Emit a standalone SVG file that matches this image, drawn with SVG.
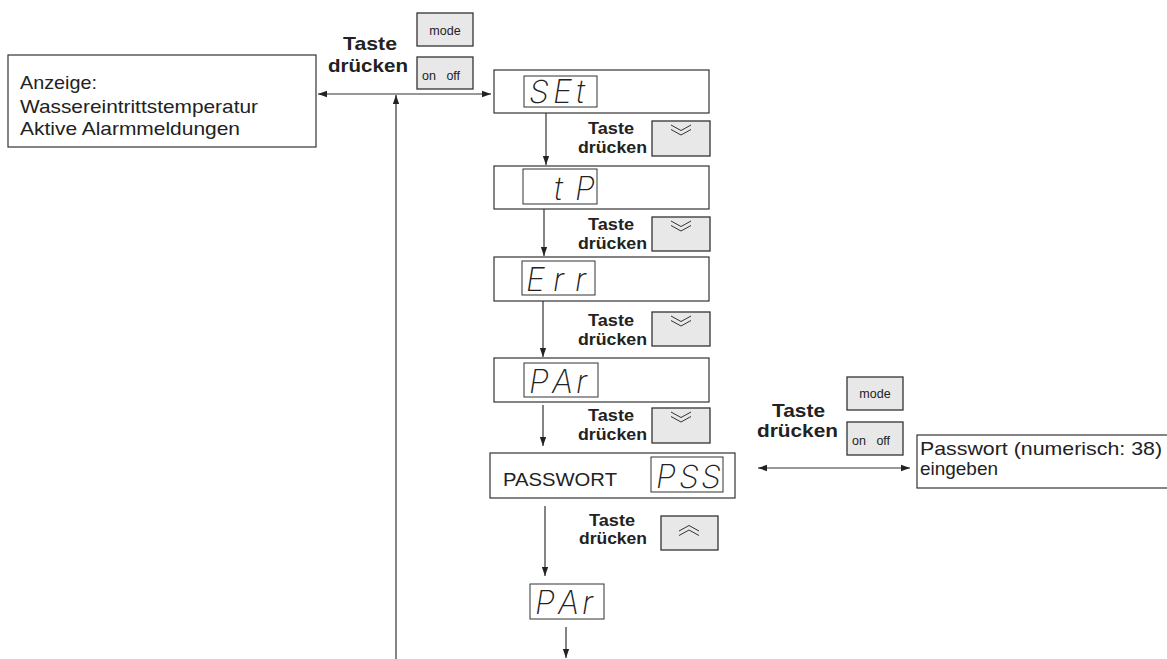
<svg xmlns="http://www.w3.org/2000/svg" width="1167" height="659" viewBox="0 0 1167 659">
<style>
.box{fill:#fff;stroke:#333;stroke-width:1.2}
.disp{fill:none;stroke:#333;stroke-width:1}
.btn{fill:#e8e8e8;stroke:#333;stroke-width:1.3}
.lbl{font-family:"Liberation Sans",Arial,sans-serif;font-size:19px;fill:#222}
.bold{font-family:"Liberation Sans",Arial,sans-serif;font-weight:bold;fill:#222}
.big{font-size:19px}
.sm{font-size:16px}
.key{font-family:"Liberation Sans",Arial,sans-serif;font-size:12.5px;fill:#222}
.seg{font-family:Inter,"Liberation Sans",sans-serif;font-style:italic;font-weight:200;font-size:32px;fill:#222}
.chev{fill:none;stroke:#333;stroke-width:1}
.con{fill:none;stroke:#333;stroke-width:1.2}
</style>
<defs>
<marker id="ah" viewBox="0 0 10 10" refX="10" refY="5" markerWidth="9" markerHeight="9" markerUnits="userSpaceOnUse" orient="auto-start-reverse">
<path d="M0,1.5 L10,5 L0,8.5 z" fill="#222"/>
</marker>
</defs>
<rect width="1167" height="659" fill="#fff"/>

<g id="connectors">
<line class="con" x1="318" y1="94" x2="491" y2="94" marker-start="url(#ah)" marker-end="url(#ah)"/>
<line class="con" x1="396" y1="659" x2="396" y2="95" marker-end="url(#ah)"/>
<line class="con" x1="546" y1="113" x2="546" y2="165" marker-end="url(#ah)"/>
<line class="con" x1="544" y1="209" x2="544" y2="256" marker-end="url(#ah)"/>
<line class="con" x1="543" y1="301" x2="543" y2="357" marker-end="url(#ah)"/>
<line class="con" x1="543" y1="405" x2="543" y2="446" marker-end="url(#ah)"/>
<line class="con" x1="545" y1="506" x2="545" y2="576" marker-end="url(#ah)"/>
<line class="con" x1="566" y1="627" x2="566" y2="658" marker-end="url(#ah)"/>
<line class="con" x1="758" y1="468" x2="910" y2="468" marker-start="url(#ah)" marker-end="url(#ah)"/>
</g>

<g id="anzeige">
<rect class="box" x="8" y="55" width="308" height="92"/>
<text class="lbl" x="20" y="89" textLength="77" lengthAdjust="spacingAndGlyphs">Anzeige:</text>
<text class="lbl" x="20" y="113" textLength="238" lengthAdjust="spacingAndGlyphs">Wassereintrittstemperatur</text>
<text class="lbl" x="20" y="135" textLength="220" lengthAdjust="spacingAndGlyphs">Aktive Alarmmeldungen</text>
</g>

<g id="taste-top">
<text class="bold big" x="343" y="50" textLength="54" lengthAdjust="spacingAndGlyphs">Taste</text>
<text class="bold big" x="328" y="72" textLength="80" lengthAdjust="spacingAndGlyphs">drücken</text>
<rect class="btn" x="417" y="13" width="56" height="33"/>
<text class="key" x="445" y="35" text-anchor="middle">mode</text>
<rect class="btn" x="417" y="57" width="56" height="32"/>
<text class="key" x="422" y="80" word-spacing="7">on off</text>
</g>

<g id="set">
<rect class="box" x="494" y="70" width="215" height="43"/>
<rect class="disp" x="524" y="76" width="73" height="31"/>
<text class="seg" x="529 553 576" y="103">SEt</text>
</g>

<g id="taste-1">
<text class="bold sm" x="588" y="134" textLength="46" lengthAdjust="spacingAndGlyphs">Taste</text>
<text class="bold sm" x="578" y="153" textLength="69" lengthAdjust="spacingAndGlyphs">drücken</text>
<rect class="btn" x="652" y="121" width="58" height="35"/>
<path class="chev" d="M671,125 L681,130.5 L691,125 M671,129.5 L681,135 L691,129.5"/>
</g>

<g id="tp">
<rect class="box" x="494" y="166" width="215" height="43"/>
<rect class="disp" x="523" y="169" width="74" height="35"/>
<text class="seg" x="554 575" y="200">tP</text>
</g>

<g id="taste-2">
<text class="bold sm" x="588" y="230" textLength="46" lengthAdjust="spacingAndGlyphs">Taste</text>
<text class="bold sm" x="578" y="249" textLength="69" lengthAdjust="spacingAndGlyphs">drücken</text>
<rect class="btn" x="652" y="217" width="58" height="34"/>
<path class="chev" d="M671,221 L681,226.5 L691,221 M671,225.5 L681,231 L691,225.5"/>
</g>

<g id="err">
<rect class="box" x="494" y="257" width="215" height="44"/>
<rect class="disp" x="522" y="261" width="73" height="34"/>
<text class="seg" x="526 553 575" y="291">Err</text>
</g>

<g id="taste-3">
<text class="bold sm" x="588" y="326" textLength="46" lengthAdjust="spacingAndGlyphs">Taste</text>
<text class="bold sm" x="578" y="345" textLength="69" lengthAdjust="spacingAndGlyphs">drücken</text>
<rect class="btn" x="652" y="312" width="58" height="34"/>
<path class="chev" d="M671,316 L681,321.5 L691,316 M671,320.5 L681,326 L691,320.5"/>
</g>

<g id="par">
<rect class="box" x="494" y="358" width="215" height="44"/>
<rect class="disp" x="524" y="363" width="74" height="34"/>
<text class="seg" x="529 552 576" y="393">PAr</text>
</g>

<g id="taste-4">
<text class="bold sm" x="588" y="421" textLength="46" lengthAdjust="spacingAndGlyphs">Taste</text>
<text class="bold sm" x="578" y="440" textLength="69" lengthAdjust="spacingAndGlyphs">drücken</text>
<rect class="btn" x="652" y="408" width="58" height="35"/>
<path class="chev" d="M671,412 L681,417.5 L691,412 M671,416.5 L681,422 L691,416.5"/>
</g>

<g id="passwort">
<rect class="box" x="490" y="453" width="245" height="45"/>
<text class="lbl" x="503" y="486" textLength="114" lengthAdjust="spacingAndGlyphs">PASSWORT</text>
<rect class="disp" x="651" y="457" width="72" height="35"/>
<text class="seg" x="656 679 701" y="488">PSS</text>
</g>

<g id="taste-right">
<text class="bold big" x="772" y="417" textLength="53" lengthAdjust="spacingAndGlyphs">Taste</text>
<text class="bold big" x="757" y="437" textLength="81" lengthAdjust="spacingAndGlyphs">drücken</text>
<rect class="btn" x="847" y="377" width="56" height="33"/>
<text class="key" x="875" y="398" text-anchor="middle">mode</text>
<rect class="btn" x="847" y="422" width="56" height="33"/>
<text class="key" x="852" y="445" word-spacing="7">on off</text>
</g>

<g id="passwort-eingabe">
<rect class="box" x="917" y="435" width="260" height="53"/>
<text class="lbl" x="920" y="455" textLength="242" lengthAdjust="spacingAndGlyphs">Passwort (numerisch: 38)</text>
<text class="lbl" x="920" y="475" textLength="78" lengthAdjust="spacingAndGlyphs">eingeben</text>
</g>

<g id="taste-5">
<text class="bold sm" x="589" y="526" textLength="46" lengthAdjust="spacingAndGlyphs">Taste</text>
<text class="bold sm" x="579" y="544" textLength="68" lengthAdjust="spacingAndGlyphs">drücken</text>
<rect class="btn" x="661" y="516" width="57" height="34"/>
<path class="chev" d="M679,531 L689,525.5 L699,531 M679,535.5 L689,530 L699,535.5"/>
</g>

<g id="par-2">
<rect class="disp" x="530" y="584" width="74" height="35"/>
<text class="seg" x="535 558 582" y="614">PAr</text>
</g>
</svg>
